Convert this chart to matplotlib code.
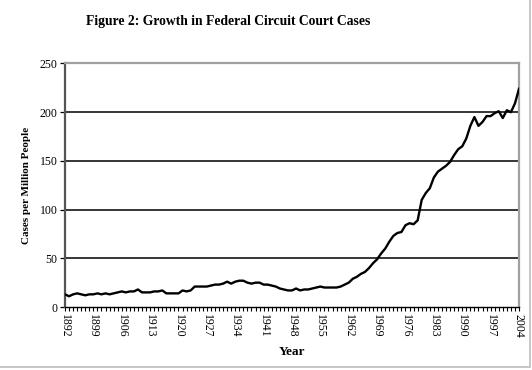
import numpy as np
import matplotlib
matplotlib.use("Agg")
import matplotlib.pyplot as plt
from matplotlib.patches import Rectangle
from matplotlib.ticker import MultipleLocator

# Cases per million people, one value per year 1892-2004
years = list(range(1892, 2005))
cases = [13, 11, 13, 14, 13, 12, 13, 13, 14, 13,
         14, 13, 14, 15, 16, 15, 16, 16, 18, 15,
         15, 15, 16, 16, 17, 14, 14, 14, 14, 17,
         16, 17, 21, 21, 21, 21, 22, 23, 23, 24,
         26, 24, 26, 27, 27, 25, 24, 25, 25, 23,
         23, 22, 21, 19, 18, 17, 17, 19, 17, 18,
         18, 19, 20, 21, 20, 20, 20, 20, 21, 23,
         25, 29, 31, 34, 36, 40, 45, 49, 55, 60,
         67, 73, 76, 77, 84, 86, 85, 89, 110, 117,
         122, 133, 139, 142, 145, 149, 156, 162, 165, 173,
         186, 195, 186, 190, 196, 196, 199, 201, 194, 202,
         200, 209, 224]
tick_years = list(range(1892, 2005, 7))
y_ticks = [0, 50, 100, 150, 200, 250]

title = "Figure 2: Growth in Federal Circuit Court Cases"

plt.rcParams['font.family'] = ['Liberation Serif', 'DejaVu Serif']

fig = plt.figure(figsize=(5.32, 3.70), dpi=100)
ax = fig.add_axes([65 / 532, 1 - 307 / 370, 454 / 532, 243.5 / 370])

for v in y_ticks[1:-1]:
    ax.axhline(v, color='black', lw=1.1, zorder=1)

ax.plot(years, cases, color='black', lw=1.7, zorder=3)

ax.set_xlim(1892, 2004)
ax.set_ylim(0, 250)
ax.set_yticks(y_ticks)
ax.set_xticks(tick_years)
ax.set_xticklabels([str(y) for y in tick_years], rotation=270, fontsize=8.5)
ax.xaxis.set_minor_locator(MultipleLocator(1))
ax.tick_params(axis='x', which='both', direction='out', length=3, width=0.8,
               pad=2)
ax.tick_params(axis='y', direction='out', length=3.5, width=0.9, labelsize=8.5,
               pad=2)

for side in ['top', 'right']:
    ax.spines[side].set_color('#a0a0a0')
    ax.spines[side].set_linewidth(1.6)
ax.spines['left'].set_color('#555555')
ax.spines['left'].set_linewidth(1.6)
ax.spines['bottom'].set_color('black')
ax.spines['bottom'].set_linewidth(1.0)

ax.set_ylabel("Cases per Million People", fontsize=8, fontweight='bold',
              labelpad=6)
ax.set_xlabel("Year", fontsize=9.5, fontweight='bold', labelpad=6)

fig.text(228 / 532, 1 - 22 / 370, title, ha='center', va='center',
         fontsize=9.8, fontweight='bold')

# thin border around the chart object
fig.patches.append(Rectangle((-0.01, 3 / 370), 530 / 532 + 0.01, 1.0,
                             transform=fig.transFigure, fill=False,
                             edgecolor='#bdbdbd', lw=1.2))

fig.savefig("out.png", dpi=100)
